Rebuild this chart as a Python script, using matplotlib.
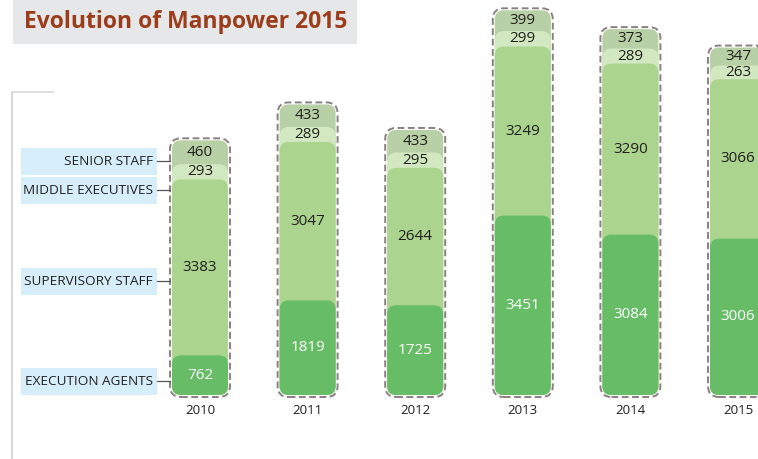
import matplotlib
matplotlib.use("Agg")
import matplotlib.pyplot as plt
from matplotlib.patches import FancyBboxPatch, Rectangle
import numpy as np

plt.rcParams['font.family'] = ['Open Sans', 'DejaVu Sans']

years = ["2010", "2011", "2012", "2013", "2014", "2015"]
categories = ["EXECUTION AGENTS", "SUPERVISORY STAFF", "MIDDLE EXECUTIVES", "SENIOR STAFF"]
execution_agents = [762, 1819, 1725, 3451, 3084, 3006]
supervisory_staff = [3383, 3047, 2644, 3249, 3290, 3066]
middle_executives = [293, 289, 295, 299, 289, 263]
senior_staff = [460, 433, 433, 399, 373, 347]
title = "Evolution of Manpower 2015"

series = [execution_agents, supervisory_staff, middle_executives, senior_staff]
colors = ["#66bd66", "#abd48f", "#d1e8c0", "#b8d0a6"]
text_colors = ["white", "#231f20", "#231f20", "#231f20"]

W, H = 758, 459
fig = plt.figure(figsize=(W / 100, H / 100), dpi=100)
fig.patch.set_facecolor("white")

px_per_unit = 0.052
x0_px, dx_px, base_px = 200.0, 107.6, 395.0
ax = fig.add_axes([0, 0, 1, 1])
ax.set_xlim(-x0_px / dx_px, (W - x0_px) / dx_px)
ax.set_ylim(-(H - base_px) / px_per_unit, base_px / px_per_unit)
ax.axis("off")

xu = 1 / dx_px
yu = 1 / px_per_unit
aspect = yu / xu
width = 56 * xu
rsize = 9 * xu

x = np.arange(len(years))
cum = np.cumsum(np.array(series), axis=0)
bottoms = np.vstack([np.zeros(len(years)), cum[:-1]])

for k in range(len(series) - 1, -1, -1):
    bars = ax.bar(x, cum[k], width=width, color=colors[k], alpha=0)
    for rect in bars:
        bx, by = rect.get_x(), rect.get_y()
        bw, bh = rect.get_width(), rect.get_height()
        p = FancyBboxPatch((bx, by), bw, bh,
                           boxstyle=f"round,pad=0,rounding_size={rsize}",
                           mutation_aspect=aspect, facecolor=colors[k],
                           edgecolor="none")
        p.set_zorder(2 + (len(series) - k) * 0.1)
        ax.add_patch(p)

totals = cum[-1]
pad = 2.0 * xu
for i in range(len(years)):
    p = FancyBboxPatch((x[i] - width / 2, 0), width, totals[i],
                       boxstyle=f"round,pad={pad},rounding_size={rsize + pad}",
                       mutation_aspect=aspect, facecolor="none",
                       edgecolor="#8b8080", linewidth=1.4,
                       linestyle=(0, (3.5, 1.8)), zorder=5)
    ax.add_patch(p)

for k in range(len(series)):
    for i in range(len(years)):
        yc = bottoms[k][i] + series[k][i] / 2
        ax.text(x[i], yc, str(series[k][i]), ha="center", va="center",
                fontsize=11, color=text_colors[k], zorder=6)

for i, yr in enumerate(years):
    ax.text(x[i], -15 * yu, yr, ha="center", va="center", fontsize=9.5,
            color="#231f20")

ov = fig.add_axes([0, 0, 1, 1], facecolor="none")
ov.set_xlim(0, W)
ov.set_ylim(H, 0)
ov.axis("off")

ov.add_patch(Rectangle((13, 0), 344, 44, facecolor="#e6e7e8", edgecolor="none"))
ov.text(24, 22, title, ha="left", va="center", fontsize=16.5, fontweight="bold",
        color="#9b3d1b")

ov.plot([12, 12], [92, H], color="#d9d9d9", linewidth=1.5)
ov.plot([12, 53], [92, 92], color="#d9d9d9", linewidth=1.2)

label_centers = {"SENIOR STAFF": 161, "MIDDLE EXECUTIVES": 190,
                 "SUPERVISORY STAFF": 281, "EXECUTION AGENTS": 381}
for cat in categories:
    cy = label_centers[cat]
    ov.add_patch(Rectangle((21, cy - 13.5), 136, 27, facecolor="#d5eef9",
                           edgecolor="none"))
    ov.text(153, cy + 0.5, cat, ha="right", va="center", fontsize=9.7,
            color="#231f20")
    ov.plot([157, 170], [cy, cy], color="#555555", linewidth=0.9)

fig.savefig("out.png", dpi=100)
